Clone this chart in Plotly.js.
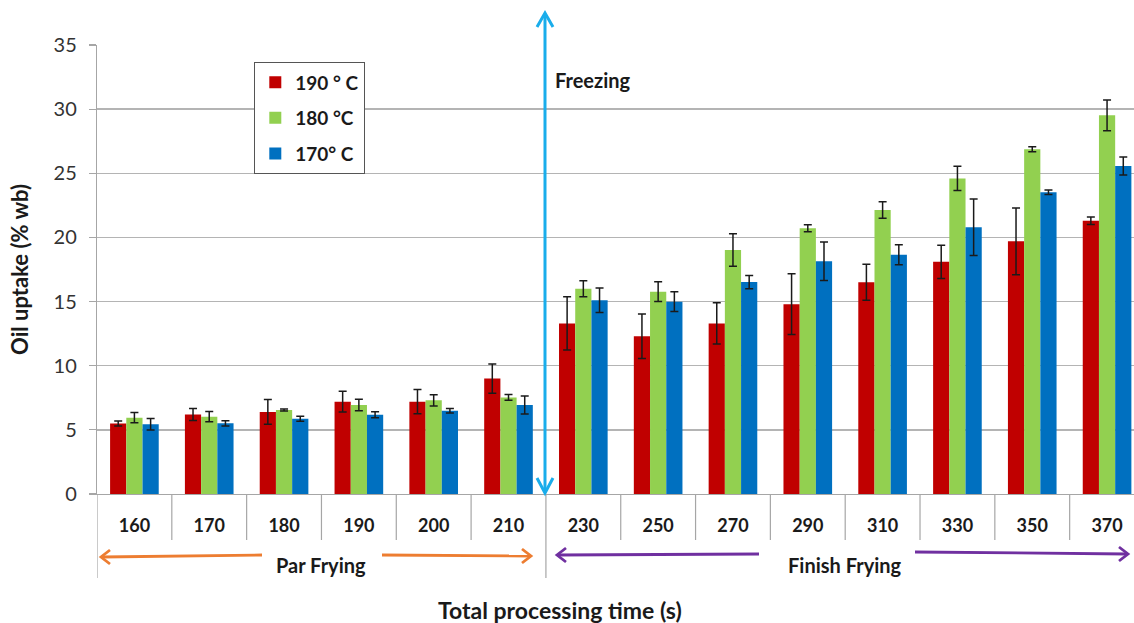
<!DOCTYPE html>
<html>
<head>
<meta charset="utf-8">
<script src="https://cdn.plot.ly/plotly-3.0.1.min.js"></script>
<style>html,body{margin:0;padding:0;background:#fff;}#chart{width:1134px;height:623px;}</style>
</head>
<body>
<div id="chart"></div>
<script>
const categories = ['160','170','180','190','200','210','230','250','270','290','310','330','350','370'];
const seriesNames = ['190 ° C', '180 °C', '170° C'];
const oil190 = [5.5, 6.2, 6.4, 7.2, 7.2, 9.0, 13.3, 12.3, 13.3, 14.8, 16.5, 18.1, 19.7, 21.3];
const err190 = [0.2, 0.47, 0.96, 0.8, 0.95, 1.14, 2.08, 1.73, 1.6, 2.36, 1.4, 1.3, 2.6, 0.3];
const oil180 = [5.95, 6.03, 6.55, 6.94, 7.3, 7.53, 16.0, 15.77, 19.02, 20.71, 22.14, 24.6, 26.87, 29.52];
const err180 = [0.4, 0.4, 0.08, 0.45, 0.44, 0.23, 0.63, 0.77, 1.27, 0.27, 0.65, 0.95, 0.2, 1.2];
const oil170 = [5.43, 5.51, 5.87, 6.18, 6.49, 6.94, 15.1, 14.99, 16.52, 18.14, 18.65, 20.79, 23.52, 25.56];
const err170 = [0.45, 0.2, 0.2, 0.23, 0.17, 0.7, 0.96, 0.77, 0.52, 1.5, 0.77, 2.2, 0.18, 0.7];
const colors = ['#C00000', '#92D050', '#0070C0'];
const phaseLabels = ['Par Frying', 'Finish Frying'];
const xTitle = 'Total processing time (s)';
const yTitle = 'Oil uptake (% wb)';

const W = 1134, H = 623, ML = 97, MR = 0, MT = 45, MB = 129;
const PW = W - ML - MR, PH = H - MT - MB;
const px = x => (x - ML) / PW;
const py = y => (H - MB - y) / PH;
const FONT = 'Lato, "Open Sans", sans-serif';

const vals = [oil190, oil180, oil170];
const errs = [err190, err180, err170];
const traces = vals.map((v, i) => ({
  type: 'bar', x: categories, y: v, name: seriesNames[i],
  legendgroup: 'g' + i,
  marker: {color: colors[i]},
  error_y: {type: 'data', array: errs[i], visible: true, color: '#1a1a1a', thickness: 1.5, width: 4}
}));

const shapes = [];
// category separators below axis
for (let i = 0; i <= categories.length; i++) {
  const long = (i === 0 || i === 6);
  shapes.push({type: 'line', xref: 'x', yref: 'paper', x0: i - 0.5, x1: i - 0.5,
    y0: 0, y1: py(long ? 578 : 540), line: {color: '#A6A6A6', width: 1.2}});
}
function line(x0, y0, x1, y1, color, w) {
  shapes.push({type: 'line', xref: 'paper', yref: 'paper', x0: px(x0), y0: py(y0), x1: px(x1), y1: py(y1), line: {color: color, width: w}});
}
function chevron(tx, ty, ax1, ay1, ax2, ay2, color, w) {
  shapes.push({type: 'path', xref: 'paper', yref: 'paper',
    path: 'M' + px(ax1) + ',' + py(ay1) + ' L' + px(tx) + ',' + py(ty) + ' L' + px(ax2) + ',' + py(ay2),
    line: {color: color, width: w}});
}
// Freezing double arrow
const cyan = '#1AADEB';
line(545, 14, 545, 492, cyan, 3);
chevron(545, 13, 537, 27, 553, 27, cyan, 3);
chevron(545, 493, 537, 478, 553, 478, cyan, 3);
// Par frying arrows
const orange = '#ED7D31', purple = '#7030A0';
line(102, 557, 262, 555, orange, 2.8);
chevron(101, 557, 110, 550, 110, 564, orange, 2.8);
line(382, 555, 530, 556, orange, 2.8);
chevron(531, 556, 522, 549, 522, 563, orange, 2.8);
// Finish frying arrows
line(558, 555, 759, 554, purple, 2.8);
chevron(557, 555, 566, 548, 566, 562, purple, 2.8);
line(915, 552, 1127, 554, purple, 2.8);
chevron(1128, 554, 1119, 547, 1119, 561, purple, 2.8);

const annotations = [
  {xref: 'paper', yref: 'paper', x: px(553), y: py(80), xanchor: 'left', yanchor: 'middle', showarrow: false,
   text: 'Freezing', font: {family: FONT, size: 20, color: '#1a1a1a', weight: 'bold'}},
  {xref: 'paper', yref: 'paper', x: px(321), y: py(565), xanchor: 'center', yanchor: 'middle', showarrow: false,
   text: phaseLabels[0], font: {family: FONT, size: 20, color: '#1a1a1a', weight: 'bold'}},
  {xref: 'paper', yref: 'paper', x: px(845), y: py(565), xanchor: 'center', yanchor: 'middle', showarrow: false,
   text: phaseLabels[1], font: {family: FONT, size: 20, color: '#1a1a1a', weight: 'bold'}},
  {xref: 'paper', yref: 'paper', x: px(560), y: py(610), xanchor: 'center', yanchor: 'middle', showarrow: false,
   text: xTitle, font: {family: FONT, size: 23, color: '#1a1a1a', weight: 'bold'}}
];

const layout = {
  width: W, height: H,
  margin: {l: ML, r: MR, t: MT, b: MB, pad: 0},
  paper_bgcolor: '#fff', plot_bgcolor: '#fff',
  barmode: 'group', bargap: 0.35, bargroupgap: 0,
  font: {family: FONT, color: '#1a1a1a'},
  xaxis: {
    type: 'category', range: [-0.5, 13.36], automargin: false,
    showgrid: false, showline: true, linecolor: '#A6A6A6', linewidth: 1.2,
    ticks: '', tickfont: {family: FONT, size: 18, color: '#1a1a1a', weight: 'bold'},
    ticklabelstandoff: 15
  },
  yaxis: {
    range: [0, 35], dtick: 5, automargin: false,
    showgrid: true, gridcolor: '#B4B4B4', gridwidth: 1.3,
    showline: true, linecolor: '#A6A6A6', linewidth: 1.2,
    ticks: 'outside', ticklen: 7, tickcolor: '#A6A6A6', tickwidth: 1.2,
    ticklabelstandoff: 8,
    tickfont: {family: FONT, size: 20, color: '#333'},
    zeroline: false,
    title: {text: yTitle, font: {family: FONT, size: 22, color: '#1a1a1a', weight: 'bold'}, standoff: 18}
  },
  legend: {
    x: px(254), y: py(62), xanchor: 'left', yanchor: 'top',
    bgcolor: '#fff', bordercolor: '#555', borderwidth: 1.3,
    traceorder: 'grouped', tracegroupgap: 8,
    font: {family: FONT, size: 19, color: '#1a1a1a', weight: 'bold'}
  },
  shapes: shapes,
  annotations: annotations,
  showlegend: true
};

Plotly.newPlot('chart', traces, layout, {displayModeBar: false, staticPlot: true});
</script>
</body>
</html>
